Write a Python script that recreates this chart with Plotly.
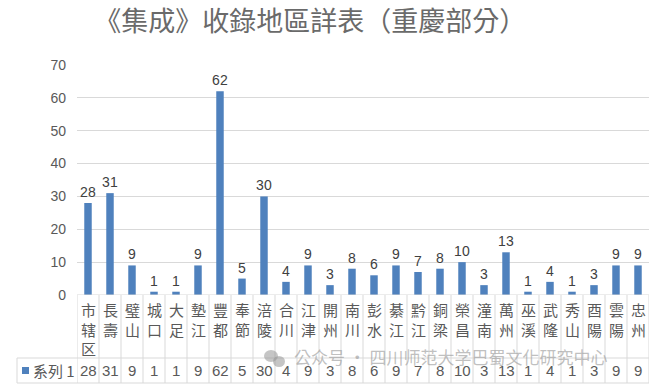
import plotly.graph_objects as go

categories = ["市辖区", "長壽", "璧山", "城口", "大足", "墊江", "豐都", "奉節", "涪陵", "合川",
              "江津", "開州", "南川", "彭水", "綦江", "黔江", "銅梁", "榮昌", "潼南", "萬州",
              "巫溪", "武隆", "秀山", "酉陽", "雲陽", "忠州"]
values = [28, 31, 9, 1, 1, 9, 62, 5, 30, 4, 9, 3, 8, 6, 9, 7, 8, 10, 3, 13, 1, 4, 1, 3, 9, 9]
series_name = "系列 1"
title_text = "《集成》收錄地區詳表（重慶部分）"
watermark = "公众号 · 四川师范大学巴蜀文化研究中心"

W, H = 660, 389
L, R, T, B = 77, 11, 65, 94
plot_h = H - T - B

def py(pix):
    return (H - B - pix) / plot_h

grid = "#d9d9d9"
txt = "#595959"
bar_color = "#4f81bd"
cjk = "Noto Sans CJK TC"
num_font = "Liberation Sans"

n = len(categories)
idx = list(range(n))

fig = go.Figure()
fig.add_trace(go.Bar(
    x=idx, y=values, marker=dict(color=bar_color, line=dict(width=0)),
    text=[str(v) for v in values], textposition="outside", constraintext="none",
    textfont=dict(family=num_font, size=14, color="#404040"),
    cliponaxis=False, showlegend=False, width=0.34, hoverinfo="skip",
))

shapes = []
annotations = []
y_top_row = py(358)
y_bot_row = py(383)
for i in range(n + 1):
    shapes.append(dict(type="line", xref="x", yref="paper", x0=i - 0.5, x1=i - 0.5,
                       y0=0, y1=y_bot_row, line=dict(color=grid, width=1)))
x_left_paper = (17 - L) / (W - L - R)
for yy in (y_top_row, y_bot_row):
    shapes.append(dict(type="line", xref="paper", yref="paper", x0=x_left_paper, x1=1,
                       y0=yy, y1=yy, line=dict(color=grid, width=1)))
shapes.append(dict(type="line", xref="paper", yref="paper", x0=x_left_paper, x1=x_left_paper,
                   y0=y_top_row, y1=y_bot_row, line=dict(color=grid, width=1)))
sq_x0 = (22 - L) / (W - L - R)
sq_x1 = (29 - L) / (W - L - R)
shapes.append(dict(type="rect", xref="paper", yref="paper", x0=sq_x0, x1=sq_x1,
                   y0=py(374), y1=py(367), fillcolor=bar_color, line=dict(width=0)))
annotations.append(dict(xref="paper", yref="paper", x=(31 - L) / (W - L - R), y=py(370.5),
                        text=series_name, showarrow=False, xanchor="left", yanchor="middle",
                        font=dict(family=cjk, size=15, color=txt)))

for i, (c, v) in enumerate(zip(categories, values)):
    annotations.append(dict(xref="x", yref="paper", x=i, y=py(297), text="<br>".join(list(c)),
                            showarrow=False, xanchor="center", yanchor="top",
                            font=dict(family=cjk, size=15, color=txt)))
    annotations.append(dict(xref="x", yref="paper", x=i, y=py(370.5), text=str(v),
                            showarrow=False, xanchor="center", yanchor="middle",
                            font=dict(family=num_font, size=15, color=txt)))

shapes.append(dict(type="circle", xref="paper", yref="paper",
                   x0=(264 - L) / (W - L - R), x1=(278 - L) / (W - L - R),
                   y0=py(362), y1=py(350), fillcolor="rgba(150,150,150,0.55)", line=dict(width=0)))
shapes.append(dict(type="circle", xref="paper", yref="paper",
                   x0=(273 - L) / (W - L - R), x1=(285 - L) / (W - L - R),
                   y0=py(367), y1=py(356), fillcolor="rgba(150,150,150,0.55)", line=dict(width=0)))
annotations.append(dict(xref="paper", yref="paper", x=(292 - L) / (W - L - R), y=py(356),
                        text=watermark, showarrow=False, xanchor="left", yanchor="middle",
                        font=dict(family=cjk, size=17, color="rgba(150,150,150,0.6)")))

fig.update_layout(
    width=W, height=H,
    margin=dict(l=L, r=R, t=T, b=B),
    paper_bgcolor="white", plot_bgcolor="white",
    title=dict(text=title_text, x=0.47, xanchor="center", y=1 - 22 / H, yanchor="middle",
               font=dict(family=cjk, size=27, color="#6a6a6a")),
    xaxis=dict(range=[-0.5, n - 0.5], showticklabels=False, showgrid=False, zeroline=False,
               showline=False, ticks=""),
    yaxis=dict(range=[0, 70], dtick=10, showgrid=True, gridcolor=grid, gridwidth=1,
               zeroline=False, showline=False, ticks="", ticklabelstandoff=10,
               tickfont=dict(family=num_font, size=14, color=txt)),
    shapes=shapes, annotations=annotations, bargap=0.6,
)
fig.add_shape(type="line", xref="paper", yref="y", x0=0, x1=1, y0=0, y1=0,
              line=dict(color=grid, width=1))

fig.write_html("out.html")
